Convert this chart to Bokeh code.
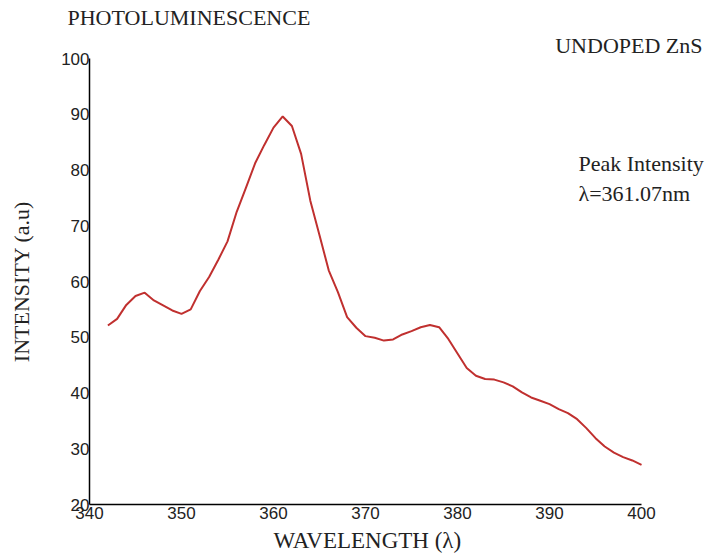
from bokeh.plotting import figure
from bokeh.models import Range1d, Label, FixedTicker, Title
from bokeh.embed import file_html
from bokeh.resources import INLINE

# Data
wavelength = list(range(342, 401))
intensity = [
    52.1, 53.3, 55.8, 57.4, 58.0, 56.6, 55.7, 54.8, 54.2, 55.0,
    58.3, 60.8, 63.9, 67.2, 72.5, 76.8, 81.2, 84.5, 87.6, 89.6,
    87.9, 82.9, 74.5, 68.3, 62.0, 58.1, 53.6, 51.7, 50.2, 49.9,
    49.4, 49.6, 50.5, 51.1, 51.8, 52.2, 51.8, 49.7, 47.1, 44.5,
    43.1, 42.5, 42.4, 41.9, 41.2, 40.1, 39.2, 38.6, 38.0, 37.1,
    36.4, 35.3, 33.7, 31.9, 30.4, 29.3, 28.5, 27.9, 27.1,
]
x_ticks = [340, 350, 360, 370, 380, 390, 400]
y_ticks = [20, 30, 40, 50, 60, 70, 80, 90, 100]

SERIF = "Liberation Serif"
SANS = "Liberation Sans"
TXT = "#222222"

# frame spans to the right edge so the annotation text is not clipped;
# axis bounds keep the axis line to 340..400
p = figure(width=707, height=557, output_backend="svg", toolbar_location=None,
           x_range=Range1d(340, 407.17), y_range=Range1d(20, 100),
           min_border_left=89, min_border_right=0, min_border_top=58,
           min_border_bottom=53, title=None)
p.outline_line_color = None
p.xgrid.visible = False
p.ygrid.visible = False
p.background_fill_color = "white"
p.border_fill_color = "white"

p.line(wavelength, intensity, line_color="#c0302f", line_width=2)

for ax in (p.xaxis[0], p.yaxis[0]):
    ax.major_tick_out = 0
    ax.major_tick_in = 0
    ax.minor_tick_out = 0
    ax.minor_tick_in = 0
    ax.axis_line_color = "black"
    ax.axis_line_width = 1.5
    ax.major_label_text_font = SANS
    ax.major_label_text_font_size = "17px"
    ax.major_label_text_color = TXT
    ax.axis_label_text_font = SERIF
    ax.axis_label_text_font_style = "normal"
    ax.axis_label_text_color = TXT

p.xaxis.bounds = (340, 400)
p.yaxis.bounds = (20, 100)
p.xaxis.ticker = FixedTicker(ticks=x_ticks)
p.yaxis.ticker = FixedTicker(ticks=y_ticks)
p.yaxis.axis_label = "INTENSITY (a.u)"
p.yaxis.axis_label_text_font_size = "22px"
p.xaxis.major_label_standoff = 2
p.yaxis.major_label_standoff = 0
p.yaxis.axis_label_standoff = 24

# x axis title, placed below the axis and centred under the 340..400 span
p.add_layout(Title(text="WAVELENGTH (λ)", align="left", offset=184, standoff=9,
                   text_font=SERIF, text_font_size="23px",
                   text_font_style="normal", text_color=TXT), "below")

# header texts (closest to the frame first)
p.add_layout(Title(text="UNDOPED ZnS", align="right", offset=5, standoff=2,
                   text_font=SERIF, text_font_size="22px",
                   text_font_style="normal", text_color=TXT), "above")
p.add_layout(Title(text="PHOTOLUMINESCENCE", align="left", offset=-22, standoff=0,
                   text_font=SERIF, text_font_size="22px",
                   text_font_style="normal", text_color=TXT), "above")

notes = ["Peak Intensity", "λ=361.07nm"]
note_y = [81.2, 75.8]
for t, y in zip(notes, note_y):
    p.add_layout(Label(x=393.15, y=y, text=t, text_font=SERIF, text_font_size="22px",
                       text_align="left", text_baseline="middle", text_color=TXT))

open("out.html", "w").write(file_html(p, INLINE))
